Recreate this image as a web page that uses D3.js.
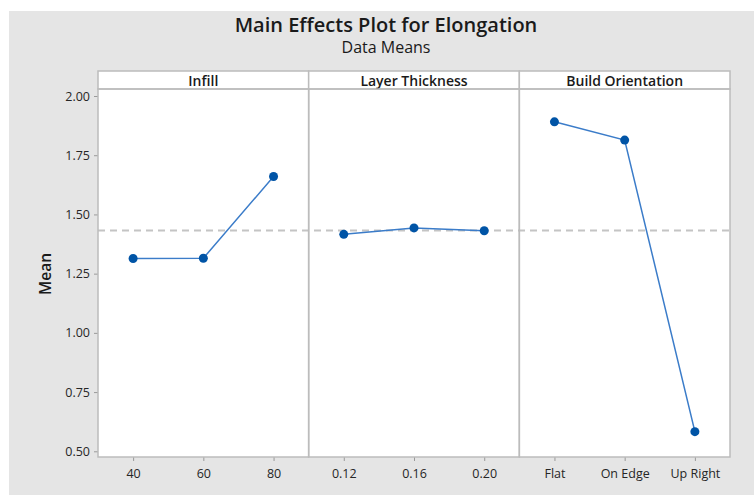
<!DOCTYPE html>
<html>
<head>
<meta charset="utf-8">
<script src="https://cdn.jsdelivr.net/npm/d3@7"></script>
<style>
  html, body { margin: 0; padding: 0; background: #ffffff; }
  svg { display: block; }
  text { font-family: "Open Sans", "Noto Sans", sans-serif; }
</style>
</head>
<body>
<svg id="chart" width="754" height="496"></svg>
<script>
// ---- data ----
const factors = ["Infill", "Layer Thickness", "Build Orientation"];
const infillLevels = ["40", "60", "80"];
const infillMeans = [1.314, 1.315, 1.660];
const layerLevels = ["0.12", "0.16", "0.20"];
const layerMeans = [1.416, 1.443, 1.431];
const buildLevels = ["Flat", "On Edge", "Up Right"];
const buildMeans = [1.891, 1.814, 0.583];
const grandMean = 1.432;
const yTicks = [0.50, 0.75, 1.00, 1.25, 1.50, 1.75, 2.00];
const titleText = "Main Effects Plot for Elongation";
const subtitleText = "Data Means";
const yLabel = "Mean";

const panels = [
  { name: factors[0], levels: infillLevels, means: infillMeans },
  { name: factors[1], levels: layerLevels, means: layerMeans },
  { name: factors[2], levels: buildLevels, means: buildMeans }
];

// ---- layout ----
const svg = d3.select("#chart");
const W = 754, H = 496;
const plotLeft = 98, plotRight = 730, plotTop = 89, plotBottom = 457;
const stripTop = 71;
const lineColor = "#3b7cc9", pointColor = "#0054a6";
const frameColor = "#bcbcbc", textColor = "#262626";
const fontStack = "'Open Sans', 'Noto Sans', sans-serif";

// background
svg.append("rect").attr("x", 9).attr("y", 11).attr("width", W - 9).attr("height", 484)
  .attr("fill", "#e5e5e5");

// titles
svg.append("text").attr("x", 386).attr("y", 32).attr("text-anchor", "middle")
  .attr("font-size", 20).attr("font-weight", 600).attr("fill", "#1a1a1a").text(titleText);
svg.append("text").attr("x", 386).attr("y", 53).attr("text-anchor", "middle")
  .attr("font-size", 16).attr("fill", "#1a1a1a").text(subtitleText);

// y scale
const y = d3.scaleLinear().domain([0.5, 2.0]).range([451.3, 96]);

// panel x ranges
const bands = d3.scaleBand().domain(factors).range([plotLeft, plotRight]).paddingInner(0).paddingOuter(0);

// plot background
svg.append("rect").attr("x", plotLeft).attr("y", stripTop)
  .attr("width", plotRight - plotLeft).attr("height", plotBottom - stripTop)
  .attr("fill", "#ffffff");

// y axis
const yAxis = d3.axisLeft(y).tickValues(yTicks).tickFormat(d3.format(".2f")).tickSize(4).tickPadding(4);
const yG = svg.append("g").attr("transform", `translate(${plotLeft},0)`).call(yAxis);
yG.select(".domain").remove();
yG.selectAll("line").attr("stroke", "#9a9a9a");
yG.selectAll("text").attr("font-size", 12.5).attr("fill", textColor).attr("font-family", fontStack);

svg.append("text")
  .attr("transform", `translate(51,${(stripTop + plotBottom) / 2 + 10}) rotate(-90)`)
  .attr("text-anchor", "middle").attr("font-size", 15.5).attr("font-weight", 600)
  .attr("fill", "#1a1a1a").text(yLabel);

// grand mean reference line
svg.append("line").attr("x1", plotLeft).attr("x2", plotRight)
  .attr("y1", y(grandMean)).attr("y2", y(grandMean))
  .attr("stroke", "#c4c4c4").attr("stroke-width", 2).attr("stroke-dasharray", "7,5");

panels.forEach(p => {
  const x0 = bands(p.name), x1 = x0 + bands.bandwidth();
  const x = d3.scalePoint().domain(p.levels).range([x0, x1]).padding(0.5);

  // strip
  svg.append("rect").attr("x", x0).attr("y", stripTop).attr("width", x1 - x0)
    .attr("height", plotTop - stripTop).attr("fill", "#ffffff")
    .attr("stroke", frameColor).attr("stroke-width", 1.5);
  svg.append("text").attr("x", (x0 + x1) / 2).attr("y", stripTop + 15)
    .attr("text-anchor", "middle").attr("font-size", 14).attr("font-weight", 600)
    .attr("fill", "#1a1a1a").text(p.name);

  // x axis
  const xAxis = d3.axisBottom(x).tickSize(4).tickPadding(8);
  const xG = svg.append("g").attr("transform", `translate(0,${plotBottom})`).call(xAxis);
  xG.select(".domain").remove();
  xG.selectAll("line").attr("stroke", "#9a9a9a");
  xG.selectAll("text").attr("font-size", 12.5).attr("fill", textColor).attr("font-family", fontStack);

  const pts = p.levels.map((l, i) => ({ l, v: p.means[i] }));
  svg.append("path").datum(pts)
    .attr("d", d3.line().x(d => x(d.l)).y(d => y(d.v)))
    .attr("fill", "none").attr("stroke", lineColor).attr("stroke-width", 1.5);
  svg.selectAll(null).data(pts).enter().append("circle")
    .attr("cx", d => x(d.l)).attr("cy", d => y(d.v)).attr("r", 4.5)
    .attr("fill", pointColor);

  // panel frame
  svg.append("rect").attr("x", x0).attr("y", plotTop).attr("width", x1 - x0)
    .attr("height", plotBottom - plotTop).attr("fill", "none")
    .attr("stroke", frameColor).attr("stroke-width", 1.5);
});
</script>
</body>
</html>
